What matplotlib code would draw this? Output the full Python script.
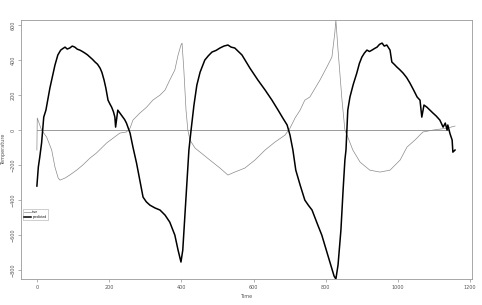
import numpy as np
import matplotlib
matplotlib.use("Agg")
import matplotlib.pyplot as plt

# predicted series (thick black)
pred_t = [0, 4, 8, 13, 16, 19, 25, 30, 36, 42, 50, 58, 66, 72, 78, 84, 91, 98, 105,
          112, 119, 126, 133, 140, 147, 154, 161, 168, 175, 180, 186, 191, 197, 202,
          207, 212, 216, 218, 224, 231, 238, 243, 248, 258, 266, 276, 285, 294, 303,
          313, 327, 341, 355, 368, 382, 391, 399, 404, 410, 416, 421, 427, 435, 443,
          452, 465, 475, 485, 496, 507, 518, 529, 538, 548, 568, 590, 612, 632, 651,
          668, 681, 693, 701, 709, 717, 729, 742, 752, 762, 770, 778, 789, 803, 814,
          823, 828, 834, 842, 848, 853, 856, 861, 867, 876, 886, 893, 900, 907, 914,
          921, 928, 935, 942, 949, 956, 962, 969, 978, 983, 990, 997, 1005, 1014, 1024,
          1033, 1043, 1053, 1061, 1066, 1072, 1080, 1088, 1097, 1106, 1116, 1125, 1131,
          1136, 1138, 1144, 1150, 1152, 1158]
pred_v = [-320, -211, -154, -74, 0, 74, 114, 171, 240, 297, 371, 429, 457, 466, 474,
          463, 469, 480, 474, 462, 457, 449, 440, 430, 417, 404, 389, 376, 354, 330,
          286, 240, 171, 150, 131, 105, 74, 17, 114, 94, 74, 60, 40, -17, -97, -189,
          -286, -383, -410, -429, -445, -457, -486, -526, -600, -686, -754, -686, -486,
          -286, -114, 0, 143, 257, 331, 400, 425, 446, 455, 469, 480, 486, 474, 469,
          429, 354, 286, 229, 171, 114, 69, 29, -29, -114, -229, -314, -400, -430,
          -457, -500, -543, -600, -697, -771, -834, -851, -771, -571, -343, -171, -114,
          114, 189, 260, 326, 380, 417, 440, 457, 449, 457, 466, 474, 490, 497, 480,
          486, 457, 389, 375, 360, 345, 326, 300, 269, 230, 189, 171, 74, 143, 131, 115,
          97, 80, 57, 17, 40, 0, 29, -20, -57, -126, -114]

# true series (thin gray)
true_t = [0, 1, 13, 27, 41, 50, 59, 64, 78, 91, 110, 127, 147, 165, 193, 211, 230,
          248, 258, 266, 285, 304, 321, 341, 355, 368, 382, 391, 399, 402, 407, 413,
          418, 424, 438, 452, 479, 507, 529, 548, 576, 604, 632, 659, 687, 701, 715,
          729, 742, 756, 784, 803, 817, 825, 828, 834, 845, 853, 861, 875, 895, 922,
          950, 978, 1006, 1025, 1047, 1069, 1097, 1136, 1158]
true_v = [-114, 69, 0, -40, -114, -211, -274, -286, -274, -257, -229, -200, -160,
          -131, -74, -46, -17, -11, 11, 57, 97, 131, 171, 200, 229, 286, 343, 429, 486,
          497, 343, 114, 0, -57, -103, -126, -171, -217, -257, -240, -217, -171, -114,
          -69, -29, 11, 69, 114, 171, 189, 286, 360, 417, 554, 629, 457, 171, 0, -40,
          -114, -183, -229, -240, -229, -171, -97, -57, -11, 0, 11, 23]

zero_t = [0, 1140]
zero_v = [0, 0]

x_ticks = [0, 200, 400, 600, 800, 1000, 1200]
y_ticks = [-800, -600, -400, -200, 0, 200, 400, 600]

fig = plt.figure(figsize=(4.82, 3.05), dpi=100)
ax = fig.add_axes([21 / 482, 1 - 279 / 305, 451 / 482, 259 / 305])

ax.plot(zero_t, zero_v, color="#8a8a8a", lw=0.6)
ax.plot(true_t, true_v, color="#8a8a8a", lw=0.5, label="true")
ax.plot(pred_t, pred_v, color="black", lw=1.1, label="predicted")

ax.set_xlim(-44, 1205)
ax.set_ylim(-851, 629)
ax.set_xticks(x_ticks)
ax.set_yticks(y_ticks)
ax.tick_params(labelsize=3.5, length=2, width=0.4, color="#777777",
               labelcolor="#555555", pad=2)
for lab in ax.get_yticklabels():
    lab.set_rotation(90)
    lab.set_va("center")
for s in ax.spines.values():
    s.set_color("#999999")
    s.set_linewidth(0.6)

ax.set_xlabel("Time", fontsize=3.5, color="#555555", labelpad=3)
ax.set_ylabel("Temperature", fontsize=3.5, color="#555555", labelpad=3)

leg = ax.legend(loc="upper left", bbox_to_anchor=(0.0, 0.278), fontsize=2.2,
                frameon=True, fancybox=False, edgecolor="#aaaaaa", handlelength=2.2,
                borderpad=0.5, labelspacing=0.25, handletextpad=0.5, framealpha=1)
leg.get_frame().set_linewidth(0.4)

fig.savefig("out.png", dpi=100)
